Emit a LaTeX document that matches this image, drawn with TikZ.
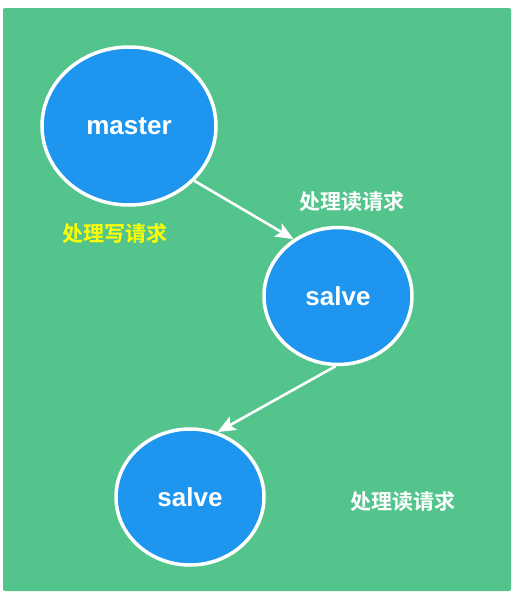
\documentclass[tikz,border=0pt]{standalone}
\usepackage{fontspec}
\setmainfont{Liberation Sans}
\newfontfamily\cjk{Noto Sans CJK SC}[BoldFont={Noto Sans CJK SC Bold}]
\usetikzlibrary{shapes.geometric,arrows.meta}
\definecolor{bggreen}{RGB}{82,196,140}
\definecolor{nodeblue}{RGB}{30,150,240}
\definecolor{labelyellow}{RGB}{255,255,0}
\tikzset{
  server/.style={ellipse, draw=white, line width=3.5pt, fill=nodeblue, inner sep=0pt,
    text=white, font=\fontsize{26}{26}\selectfont\bfseries},
  link/.style={draw=white, line width=2.6pt, -{Stealth[length=18pt,width=15pt,inset=4pt]}},
  note/.style={font=\cjk\fontsize{21}{21}\selectfont\bfseries, text=white}
}
\begin{document}
\begin{tikzpicture}[x=1pt,y=-1pt]
\useasboundingbox (0,0) rectangle (519,597);
\fill[white] (0,0) rectangle (519,597);
\fill[bggreen, rounded corners=2pt] (3,8) rectangle (511,591);
\node[server, minimum width=174pt, minimum height=158pt] (master) at (129,126) {master};
\node[server, minimum width=148pt, minimum height=137pt] (salve1) at (338,296) {salve};
\node[server, minimum width=148pt, minimum height=136pt] (salve2) at (190,497) {salve};
\draw[link] (master.-40) -- (salve1.128);
\draw[link] (salve1.-92) -- (salve2.67);
\node[note] (readA) at (352,202) {处理读请求};
\node[note, text=labelyellow] (write) at (115,234) {处理写请求};
\node[note] (readB) at (403,502) {处理读请求};
\end{tikzpicture}
\end{document}
